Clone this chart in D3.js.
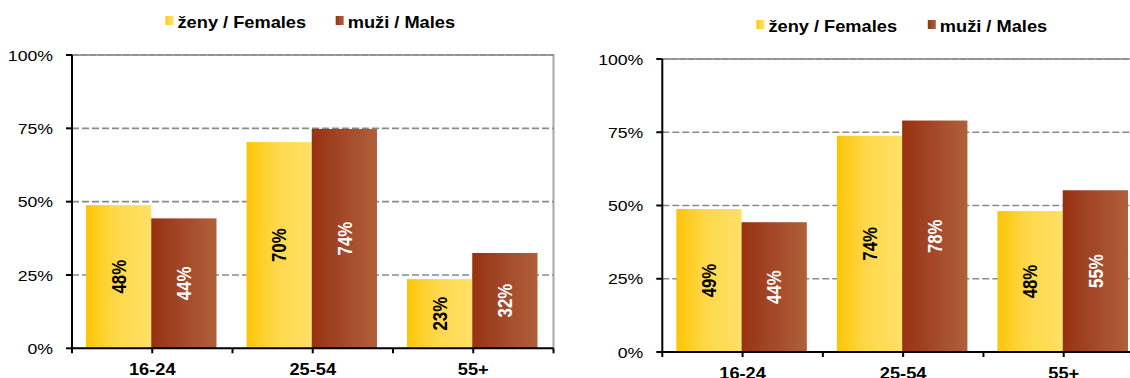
<!DOCTYPE html>
<html>
<head>
<meta charset="utf-8">
<script src="https://cdn.jsdelivr.net/npm/d3@7"></script>
<style>
  html, body { margin: 0; padding: 0; background: #fff; }
  svg { display: block; font-family: "Liberation Sans", Arial, sans-serif; }
</style>
</head>
<body>
<svg id="chart" width="1130" height="378"></svg>
<script>
// ---- data ----
const categories = ["16-24", "25-54", "55+"];
const seriesNames = ["ženy / Females", "muži / Males"];
const yTicks = [0, 25, 50, 75, 100];
// left chart
const leftFemales = [48.8, 70.3, 23.6];
const leftMales = [44.3, 74.8, 32.5];
const leftFemaleLabels = ["48%", "70%", "23%"];
const leftMaleLabels = ["44%", "74%", "32%"];
// right chart
const rightFemales = [48.8, 73.8, 48.1];
const rightMales = [44.3, 79.0, 55.2];
const rightFemaleLabels = ["49%", "74%", "48%"];
const rightMaleLabels = ["44%", "78%", "55%"];

const SX = 1.14; // horizontal text stretch seen in the reference

const svg = d3.select("#chart");
const defs = svg.append("defs");
function grad(id, stops) {
  const g = defs.append("linearGradient").attr("id", id)
    .attr("x1", "0%").attr("x2", "100%").attr("y1", "0%").attr("y2", "0%");
  stops.forEach(s => g.append("stop").attr("offset", s[0]).attr("stop-color", s[1]));
}
grad("gF", [[0, "#FDC506"], [0.45, "#FFD84A"], [1, "#FFE066"]]);
grad("gM", [[0, "#973210"], [0.5, "#A4492A"], [1, "#B0603A"]]);
const fills = ["url(#gF)", "url(#gM)"];
const labelColors = ["#000", "#fff"];

function drawChart(cfg) {
  const g = svg.append("g");
  const x = d3.scaleBand().domain(categories).range([cfg.x0, cfg.x1]).padding(0);
  const xs = d3.scaleBand().domain([0, 1]).range([0, x.bandwidth()])
    .paddingInner(0).paddingOuter(0.23);
  const y = d3.scaleLinear().domain([0, 100]).range([cfg.yB, cfg.yT]);

  // plot border (top & right)
  g.append("path")
    .attr("d", `M${cfg.x0},${cfg.yT}H${cfg.x1}V${cfg.yB}`)
    .attr("fill", "none").attr("stroke", "#a6a6a6").attr("stroke-width", 2);

  // gridlines
  g.selectAll("line.grid").data(yTicks.filter(d => d > 0)).join("line")
    .attr("x1", cfg.x0).attr("x2", cfg.x1)
    .attr("y1", d => y(d)).attr("y2", d => y(d))
    .attr("stroke", "#8a8a8a").attr("stroke-width", 1.6)
    .attr("stroke-dasharray", d => d === 100 ? "7,1.5" : "7,3");

  // bars
  const series = [cfg.fem, cfg.mal];
  const labels = [cfg.femL, cfg.malL];
  series.forEach((vals, si) => {
    g.selectAll(null).data(vals).join("rect")
      .attr("x", (d, i) => x(categories[i]) + xs(si) - 1)
      .attr("width", xs.bandwidth())
      .attr("y", d => y(d))
      .attr("height", d => y(0) - y(d))
      .attr("fill", fills[si]);
    g.selectAll(null).data(vals).join("text")
      .attr("transform", (d, i) => {
        const cx = x(categories[i]) + xs(si) - 1 + xs.bandwidth() / 2;
        const cy = (y(d) + y(0)) / 2;
        return `translate(${cx},${cy}) scale(1.2,1) rotate(-90)`;
      })
      .attr("text-anchor", "middle")
      .attr("dy", "0.36em")
      .attr("font-size", 16.8).attr("font-weight", "bold")
      .attr("fill", labelColors[si])
      .text((d, i) => labels[si][i]);
  });

  // y axis
  g.append("line").attr("x1", cfg.x0).attr("x2", cfg.x0)
    .attr("y1", cfg.yT).attr("y2", cfg.yB + 1)
    .attr("stroke", "#000").attr("stroke-width", 2);
  g.selectAll("line.yt").data(yTicks).join("line")
    .attr("x1", cfg.x0 - 6).attr("x2", cfg.x0)
    .attr("y1", d => y(d)).attr("y2", d => y(d))
    .attr("stroke", "#000").attr("stroke-width", 2);
  g.selectAll("text.yl").data(yTicks).join("text")
    .attr("transform", d => `translate(${cfg.x0 - 19},${y(d)}) scale(${SX},1)`)
    .attr("text-anchor", "end").attr("dy", "0.36em")
    .attr("font-size", 15.5).attr("fill", "#000")
    .text(d => d + "%");

  // x axis
  g.append("line").attr("x1", cfg.x0 - 1).attr("x2", cfg.x1)
    .attr("y1", cfg.yB).attr("y2", cfg.yB)
    .attr("stroke", "#000").attr("stroke-width", 2);
  const xt = [];
  categories.forEach(c => { xt.push(x(c)); xt.push(x(c) + x.bandwidth() / 2); });
  xt.push(cfg.x1);
  g.selectAll("line.xt").data(xt).join("line")
    .attr("x1", d => d).attr("x2", d => d)
    .attr("y1", cfg.yB).attr("y2", cfg.yB + 5)
    .attr("stroke", "#000").attr("stroke-width", 2);
  g.selectAll("text.xl").data(categories).join("text")
    .attr("transform", d => `translate(${x(d) + x.bandwidth() / 2},${cfg.yB + 27}) scale(${SX},1)`)
    .attr("text-anchor", "middle")
    .attr("font-size", 16).attr("font-weight", "bold").attr("fill", "#000")
    .text(d => d);

  // legend
  cfg.legend.forEach((lx, si) => {
    g.append("rect").attr("x", lx).attr("y", cfg.legY - 11.5)
      .attr("width", 8).attr("height", 9).attr("fill", fills[si]);
    g.append("text")
      .attr("transform", `translate(${lx + 12},${cfg.legY}) scale(${SX},1)`)
      .attr("font-size", 16).attr("font-weight", "bold").attr("fill", "#000")
      .text(seriesNames[si]);
  });
}

drawChart({
  x0: 72, x1: 553.5, yT: 55, yB: 348.3,
  fem: leftFemales, mal: leftMales, femL: leftFemaleLabels, malL: leftMaleLabels,
  legend: [165.5, 335.7], legY: 27.5
});
drawChart({
  x0: 662.3, x1: 1144, yT: 59, yB: 352,
  fem: rightFemales, mal: rightMales, femL: rightFemaleLabels, malL: rightMaleLabels,
  legend: [756.4, 927.8], legY: 31.5
});
</script>
</body>
</html>
